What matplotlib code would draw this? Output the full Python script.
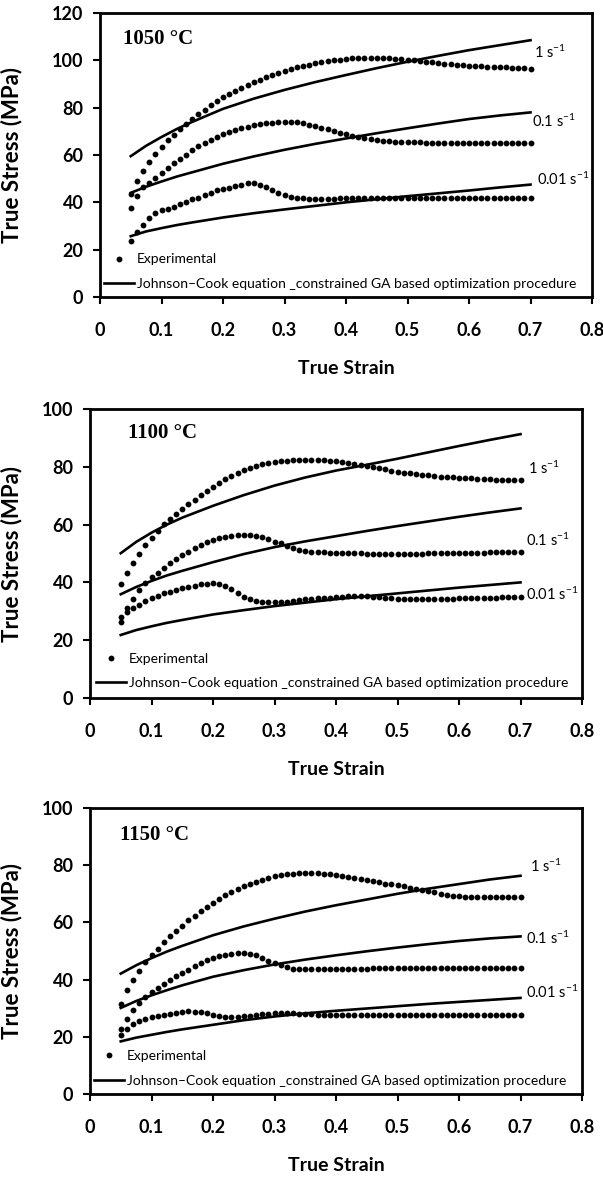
import numpy as np
import matplotlib
matplotlib.use('Agg')  # headless
import matplotlib.pyplot as plt
from matplotlib.lines import Line2D

plt.rcParams['font.family'] = ['Lato', 'DejaVu Sans']
plt.rcParams['mathtext.fontset'] = 'custom'
plt.rcParams['mathtext.rm'] = 'Lato'
plt.rcParams['mathtext.default'] = 'regular'

# ─── Data ────────────────────────────────────────────────────────────────────
# experimental points sampled every 0.01 strain, 0.05 .. 0.70
STRAIN = np.round(np.arange(0.05, 0.705, 0.01), 2)
# Johnson-Cook model curves
JC_STRAIN = [0.05, 0.075, 0.10, 0.125, 0.15, 0.20, 0.25, 0.30, 0.35, 0.40,
             0.45, 0.50, 0.55, 0.60, 0.65, 0.70]

TEMPS = ['1050 °C', '1100 °C', '1150 °C']
RATES = ['1 s$^{-1}$', '0.1 s$^{-1}$', '0.01 s$^{-1}$']

# 1050 °C
EXP_1050_1 = [43.6, 49.1, 53.4, 56.9, 60.3, 63.5, 66.2, 68.5, 70.8, 73.1,
              75.2, 77.3, 79.2, 81.0, 82.7, 84.3, 85.8, 87.2, 88.5, 89.7,
              90.8, 91.9, 92.9, 93.8, 94.7, 95.5, 96.3, 97.0, 97.6, 98.2,
              98.7, 99.2, 99.6, 100.0, 100.3, 100.6, 100.8, 100.9, 101.0, 101.0,
              101.0, 100.9, 100.8, 100.6, 100.4, 100.2, 100.0, 99.7, 99.4, 99.1,
              98.8, 98.5, 98.3, 98.1, 97.9, 97.7, 97.5, 97.4, 97.3, 97.2,
              97.1, 97.0, 96.9, 96.8, 96.7, 96.5]
EXP_1050_01 = [37.4, 42.6, 46.3, 48.3, 50.4, 52.5, 54.6, 56.7, 58.4, 60.2,
               62.0, 63.8, 65.2, 66.3, 67.6, 68.7, 69.6, 70.4, 71.2, 71.9,
               72.5, 73.0, 73.4, 73.7, 73.9, 74.0, 74.0, 73.8, 73.4, 72.8,
               72.2, 71.5, 70.8, 70.1, 69.4, 68.7, 68.1, 67.6, 67.1, 66.7,
               66.3, 66.0, 65.8, 65.6, 65.5, 65.4, 65.3, 65.3, 65.2, 65.2,
               65.2, 65.1, 65.1, 65.1, 65.0, 65.0, 65.0, 65.0, 65.0, 65.0,
               65.0, 65.0, 65.0, 65.0, 65.0, 65.0]
EXP_1050_001 = [23.5, 27.4, 30.6, 33.2, 35.5, 36.8, 37.3, 38.2, 39.3, 40.2,
                41.2, 42.0, 42.9, 44.0, 45.0, 45.5, 46.1, 46.8, 47.5, 48.2,
                48.0, 47.5, 46.3, 45.0, 43.9, 43.0, 42.4, 42.0, 41.7, 41.5,
                41.3, 41.4, 41.5, 41.6, 41.7, 41.8, 41.9, 42.0, 42.0, 42.0,
                42.0, 41.9, 41.9, 41.8, 41.8, 41.8, 41.8, 41.8, 41.8, 41.8,
                41.8, 41.8, 41.8, 41.9, 41.9, 41.9, 41.9, 42.0, 42.0, 42.0,
                42.0, 42.0, 42.0, 42.0, 42.0, 42.0]
JC_1050_1 = [59.5, 63.9, 67.6, 71.0, 74.0, 79.5, 83.8, 87.5, 90.8, 93.8,
             96.7, 99.4, 101.9, 104.3, 106.4, 108.5]
JC_1050_01 = [44.0, 46.6, 48.8, 50.9, 52.7, 56.3, 59.4, 62.2, 64.7, 67.0,
              69.2, 71.3, 73.3, 75.2, 76.7, 78.0]
JC_1050_001 = [25.7, 27.7, 29.1, 30.4, 31.5, 33.6, 35.4, 37.0, 38.5, 40.0,
               41.3, 42.6, 43.8, 45.0, 46.3, 47.5]

# 1100 °C
EXP_1100_1 = [39.3, 43.4, 46.8, 49.8, 52.9, 55.5, 57.8, 60.1, 61.8, 63.7,
              65.3, 67.0, 68.5, 70.2, 71.6, 73.1, 74.5, 75.8, 76.9, 78.0,
              78.9, 79.7, 80.4, 81.0, 81.4, 81.8, 82.0, 82.1, 82.2, 82.3,
              82.4, 82.4, 82.4, 82.3, 82.1, 81.9, 81.7, 81.4, 81.1, 80.7,
              80.3, 79.9, 79.5, 79.1, 78.7, 78.3, 78.0, 77.7, 77.4, 77.2,
              77.0, 76.8, 76.6, 76.4, 76.3, 76.2, 76.1, 76.0, 75.9, 75.8,
              75.7, 75.6, 75.5, 75.5, 75.4, 75.4]
EXP_1100_01 = [28.2, 31.2, 34.3, 37.2, 39.9, 42.0, 43.4, 45.1, 46.6, 48.1,
               49.5, 50.6, 51.8, 52.9, 53.9, 54.7, 55.2, 55.8, 56.2, 56.4,
               56.4, 56.4, 56.2, 55.6, 55.0, 54.1, 53.5, 52.6, 51.8, 51.2,
               50.9, 50.6, 50.5, 50.4, 50.3, 50.2, 50.2, 50.1, 50.1, 50.1,
               50.0, 50.0, 50.0, 50.0, 50.0, 50.0, 50.0, 50.0, 50.0, 50.0,
               50.1, 50.1, 50.1, 50.2, 50.2, 50.2, 50.3, 50.3, 50.3, 50.3,
               50.4, 50.4, 50.4, 50.5, 50.5, 50.5]
EXP_1100_001 = [26.4, 29.8, 31.0, 32.3, 33.5, 34.5, 35.3, 36.2, 36.8, 37.4,
                37.9, 38.5, 38.9, 39.3, 39.6, 39.7, 39.4, 38.8, 37.6, 36.2,
                35.1, 34.3, 33.7, 33.3, 33.1, 33.1, 33.2, 33.3, 33.6, 33.9,
                34.1, 34.4, 34.5, 34.6, 34.7, 35.0, 35.1, 35.3, 35.3, 35.3,
                35.2, 35.0, 34.8, 34.6, 34.5, 34.4, 34.3, 34.2, 34.2, 34.2,
                34.2, 34.3, 34.3, 34.4, 34.4, 34.5, 34.5, 34.6, 34.6, 34.7,
                34.7, 34.7, 34.8, 34.8, 34.8, 34.9]
JC_1100_1 = [50.1, 54.0, 57.2, 60.0, 62.4, 66.5, 70.2, 73.5, 76.3, 78.7,
             80.7, 82.8, 85.0, 87.2, 89.3, 91.3]
JC_1100_01 = [35.9, 38.4, 40.5, 42.4, 44.0, 47.0, 49.8, 52.2, 54.2, 56.0,
              57.8, 59.5, 61.1, 62.7, 64.2, 65.6]
JC_1100_001 = [21.8, 23.5, 24.8, 26.0, 27.0, 28.9, 30.4, 31.8, 33.0, 34.2,
               35.2, 36.2, 37.2, 38.2, 39.1, 40.0]

# 1150 °C
EXP_1150_1 = [31.4, 36.2, 40.0, 43.1, 46.2, 48.7, 50.8, 53.0, 55.1, 57.1,
              58.9, 60.7, 62.4, 63.9, 65.4, 66.8, 68.2, 69.5, 70.6, 71.7,
              72.6, 73.4, 74.2, 74.9, 75.5, 76.1, 76.5, 76.8, 77.0, 77.2,
              77.2, 77.2, 77.1, 77.0, 76.8, 76.6, 76.3, 76.0, 75.6, 75.2,
              74.8, 74.4, 74.0, 73.6, 73.3, 73.0, 72.6, 72.2, 71.8, 71.4,
              71.0, 70.5, 70.1, 69.7, 69.4, 69.2, 69.0, 68.9, 68.9, 68.9,
              68.9, 68.9, 68.9, 68.9, 69.0, 69.0]
EXP_1150_01 = [22.8, 26.3, 29.5, 31.8, 33.9, 35.6, 37.1, 38.5, 40.0, 41.1,
               42.3, 43.5, 44.6, 45.8, 46.7, 47.6, 48.1, 48.7, 49.1, 49.3,
               49.3, 49.1, 48.5, 47.6, 46.6, 45.8, 45.0, 44.3, 43.8, 43.7,
               43.6, 43.6, 43.6, 43.6, 43.6, 43.7, 43.7, 43.7, 43.8, 43.8,
               43.8, 43.9, 43.9, 43.9, 43.9, 44.0, 44.0, 44.0, 44.0, 44.0,
               44.0, 44.0, 44.0, 44.0, 44.0, 44.1, 44.1, 44.1, 44.1, 44.1,
               44.1, 44.1, 44.2, 44.2, 44.2, 44.2]
EXP_1150_001 = [20.5, 22.8, 24.6, 25.5, 26.3, 26.9, 27.4, 27.7, 28.1, 28.3,
                28.7, 28.9, 28.8, 28.7, 28.3, 27.7, 27.2, 26.9, 26.8, 26.9,
                27.2, 27.4, 27.6, 27.9, 28.1, 28.2, 28.3, 28.3, 28.2, 28.1,
                28.0, 27.9, 27.7, 27.7, 27.7, 27.7, 27.6, 27.6, 27.6, 27.6,
                27.6, 27.6, 27.6, 27.6, 27.6, 27.6, 27.6, 27.6, 27.6, 27.6,
                27.6, 27.6, 27.6, 27.6, 27.6, 27.6, 27.6, 27.6, 27.6, 27.6,
                27.6, 27.6, 27.6, 27.6, 27.6, 27.6]
JC_1150_1 = [42.1, 45.0, 47.5, 49.8, 51.8, 55.5, 58.6, 61.3, 63.8, 66.0,
             68.0, 70.0, 71.8, 73.4, 75.0, 76.3]
JC_1150_01 = [30.1, 32.5, 34.5, 36.3, 38.0, 41.0, 43.3, 45.3, 47.0, 48.5,
              49.9, 51.2, 52.4, 53.5, 54.4, 55.1]
JC_1150_001 = [18.4, 19.7, 20.7, 21.7, 22.6, 24.2, 25.8, 27.1, 28.2, 29.1,
               29.9, 30.7, 31.5, 32.2, 32.9, 33.6]

EXP = [[EXP_1050_1, EXP_1050_01, EXP_1050_001],
       [EXP_1100_1, EXP_1100_01, EXP_1100_001],
       [EXP_1150_1, EXP_1150_01, EXP_1150_001]]
JC = [[JC_1050_1, JC_1050_01, JC_1050_001],
      [JC_1100_1, JC_1100_01, JC_1100_001],
      [JC_1150_1, JC_1150_01, JC_1150_001]]

# ─── Layout (pixels of the 603x1177 canvas) ──────────────────────────────────
W, H = 603, 1177
PANELS = [  # left, top, right, bottom
    (100, 13, 592, 297),
    (90, 409, 582, 698),
    (90, 808, 582, 1094),
]
YMAX = [120, 100, 100]
TITLE_POS = [(0.047, 0.908), (0.077, 0.917), (0.061, 0.906)]
RATE_POS = [
    [(0.705, 103.3), (0.703, 74.4), (0.710, 49.5)],
    [(0.713, 79.6), (0.709, 54.7), (0.709, 35.9)],
    [(0.716, 79.6), (0.709, 54.5), (0.709, 35.5)],
]
LEG_ANCHOR = [(0.008, 0.025), (0.012, 0.03), (0.008, 0.025)]

fig = plt.figure(figsize=(W / 100, H / 100), dpi=100)

for i in range(3):
    l, t, r, b = PANELS[i]
    ax = fig.add_axes([l / W, 1 - b / H, (r - l) / W, (b - t) / H])

    for k in range(3):
        ax.plot(STRAIN, EXP[i][k], 'o', color='black', markersize=4.2,
                markeredgewidth=0, zorder=3)
        ax.plot(JC_STRAIN, JC[i][k], '-', color='black', linewidth=1.9,
                solid_joinstyle='round', zorder=2)
        tx, ty = RATE_POS[i][k]
        ax.text(tx, ty, RATES[k], fontsize=10.5, ha='left', va='center')

    ax.text(TITLE_POS[i][0], TITLE_POS[i][1], TEMPS[i], transform=ax.transAxes,
            family='Liberation Serif', fontweight='bold', fontsize=15,
            ha='left', va='center')

    ax.set_xlim(0, 0.8)
    ax.set_ylim(0, YMAX[i])
    ax.set_xticks(np.arange(0, 0.81, 0.1))
    ax.set_xticklabels(['0', '0.1', '0.2', '0.3', '0.4', '0.5', '0.6', '0.7', '0.8'])
    ax.set_yticks(np.arange(0, YMAX[i] + 1, 20))
    ax.tick_params(direction='out', length=5, width=1.5, labelsize=13, pad=7)
    ax.tick_params(axis='x', pad=13)
    for lab in ax.get_xticklabels() + ax.get_yticklabels():
        lab.set_fontweight('bold')
    for sp in ax.spines.values():
        sp.set_linewidth(2.0)

    ax.set_xlabel('True Strain', fontsize=14, fontweight='bold', labelpad=15)
    ax.set_ylabel('True Stress (MPa)', fontsize=16, fontweight='bold')
    ax.yaxis.set_label_coords((22 - l) / (r - l), 0.5)

    handles = [Line2D([], [], ls='none', marker='o', color='black',
                      markersize=4.2, markeredgewidth=0),
               Line2D([], [], color='black', linewidth=1.9)]
    ax.legend(handles, ['Experimental',
                        'Johnson\u2013Cook equation _constrained GA based optimization procedure'],
              loc='lower left', bbox_to_anchor=LEG_ANCHOR[i], frameon=False,
              fontsize=10, handlelength=2.2, handletextpad=0.15,
              labelspacing=0.9, borderpad=0, borderaxespad=0)

fig.savefig('out.png', dpi=100)
